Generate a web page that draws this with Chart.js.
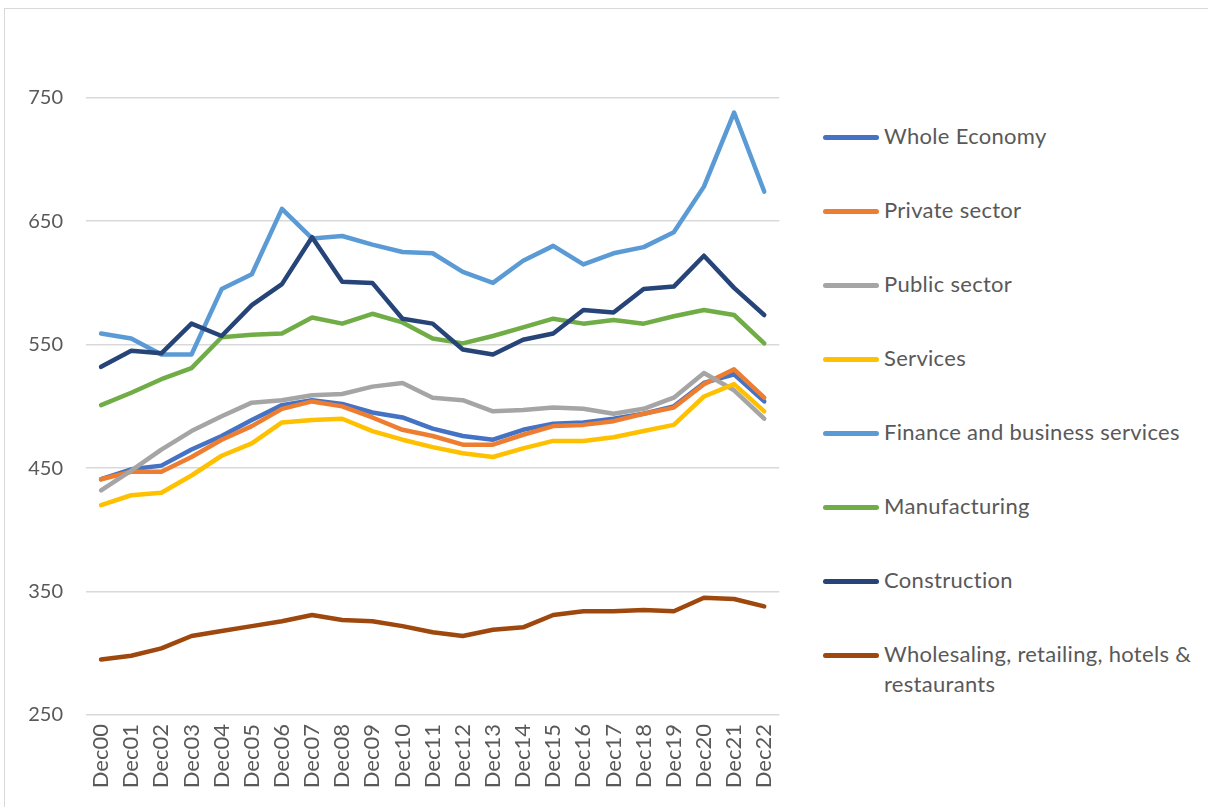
<!DOCTYPE html>
<html>
<head>
<meta charset="utf-8">
<script src="https://cdn.jsdelivr.net/npm/chart.js@4/dist/chart.umd.min.js"></script>
<style>
  body { margin: 0; background: #fff; font-family: Lato, sans-serif; }
  #frame { position: absolute; left: 4px; top: 8px; width: 1300px; height: 900px; border: 1px solid #d9d9d9; }
  #wrap { position: absolute; left: 0; top: 0; width: 800px; height: 807px; }
  #legend { position: absolute; left: 0; top: 0; }
  .item { position: absolute; left: 823px; }
  .swatch { position: absolute; left: 0; width: 56px; height: 5px; border-radius: 3px; }
  .label { position: absolute; left: 61px; font-size: 22px; line-height: 30px; color: #595959; white-space: nowrap; letter-spacing: 0.3px; }
</style>
</head>
<body>
<div id="frame"></div>
<div id="wrap"><canvas id="myChart" width="800" height="807"></canvas></div>
<div id="legend"></div>
<script>
// Kategorier (x-axeln)
var years = ["Dec00", "Dec01", "Dec02", "Dec03", "Dec04", "Dec05", "Dec06", "Dec07", "Dec08", "Dec09", "Dec10", "Dec11",
  "Dec12", "Dec13", "Dec14", "Dec15", "Dec16", "Dec17", "Dec18", "Dec19", "Dec20", "Dec21", "Dec22"];

var seriesNames = ["Whole Economy", "Private sector", "Public sector", "Services", "Finance and business services",
  "Manufacturing", "Construction", "Wholesaling, retailing, hotels & restaurants"];
var seriesColors = ["#4472C4", "#ED7D31", "#A5A5A5", "#FFC000", "#5B9BD5", "#70AD47", "#264478", "#9E480E"];

var wholeEconomy = [441, 449, 452, 465, 476, 489, 501, 505, 502, 495, 491, 482, 476, 473, 481, 486, 487, 490, 494, 500, 519, 526, 504];
var privateSector = [441, 447, 447, 459, 473, 484, 498, 504, 500, 491, 481, 476, 469, 469, 477, 484, 485, 488, 494, 499, 518, 530, 507];
var publicSector = [432, 448, 465, 480, 492, 503, 505, 509, 510, 516, 519, 507, 505, 496, 497, 499, 498, 494, 498, 507, 527, 513, 490];
var services = [420, 428, 430, 444, 460, 470, 487, 489, 490, 480, 473, 467, 462, 459, 466, 472, 472, 475, 480, 485, 508, 518, 496];
var finance = [559, 555, 542, 542, 595, 607, 660, 636, 638, 631, 625, 624, 609, 600, 618, 630, 615, 624, 629, 641, 678, 738, 674];
var manufacturing = [501, 511, 522, 531, 556, 558, 559, 572, 567, 575, 568, 555, 551, 557, 564, 571, 567, 570, 567, 573, 578, 574, 551];
var construction = [532, 545, 543, 567, 557, 582, 599, 637, 601, 600, 571, 567, 546, 542, 554, 559, 578, 576, 595, 597, 622, 596, 574];
var wholesale = [295, 298, 304, 314, 318, 322, 326, 331, 327, 326, 322, 317, 314, 319, 321, 331, 334, 334, 335, 334, 345, 344, 338];

var allSeries = [wholeEconomy, privateSector, publicSector, services, finance, manufacturing, construction, wholesale];

var yTicks = [250, 350, 450, 550, 650, 750];

var datasets = [];
allSeries.forEach((serie, i) => {
  datasets.push({
    label: seriesNames[i],
    data: serie,
    borderColor: seriesColors[i],
    backgroundColor: seriesColors[i],
    borderWidth: 4.5,
    pointRadius: 0,
    tension: 0,
    borderCapStyle: "round",
    borderJoinStyle: "round",
    order: allSeries.length - i  // senare serier ritas ovanpå, som i Excel
  });
});

new Chart("myChart", {
  type: "line",
  data: { labels: years, datasets: datasets },
  options: {
    responsive: false,
    animation: false,
    layout: { padding: { top: 36, right: 17, left: 0, bottom: 0 } },
    plugins: { legend: { display: false }, tooltip: { enabled: false } },
    scales: {
      x: {
        offset: true,
        grid: { display: false, drawTicks: false },
        border: { display: false },
        ticks: {
          minRotation: 90, maxRotation: 90, autoSkip: false, padding: 9,
          color: "#595959", font: { family: "Lato", size: 22 }
        },
        afterFit: scale => { scale.height = 92; }
      },
      y: {
        min: 250, max: 800,
        grid: { color: "#d9d9d9", lineWidth: 1.5, drawTicks: false },
        border: { display: false },
        ticks: { stepSize: 100, padding: 23, color: "#595959", font: { family: "Lato", size: 20 } },
        afterBuildTicks: scale => {
          scale.ticks = yTicks.map(v => ({ value: v }));
        },
        afterFit: scale => { scale.width = 86; }
      }
    }
  }
});

// Legenden till höger
var legendTops = [137, 211, 285, 359, 433, 507, 581, 655];
var legend = document.getElementById("legend");
seriesNames.forEach((name, i) => {
  var item = document.createElement("div");
  item.className = "item";
  item.style.top = legendTops[i] + "px";
  var sw = document.createElement("div");
  sw.className = "swatch";
  sw.style.background = seriesColors[i];
  sw.style.top = "-2px";
  var lab = document.createElement("div");
  lab.className = "label";
  lab.style.top = "-16px";
  if (i === 7) {
    lab.innerHTML = "Wholesaling, retailing, hotels &amp;<br>restaurants";
  } else {
    lab.textContent = name;
  }
  item.appendChild(sw);
  item.appendChild(lab);
  legend.appendChild(item);
});
</script>
</body>
</html>
